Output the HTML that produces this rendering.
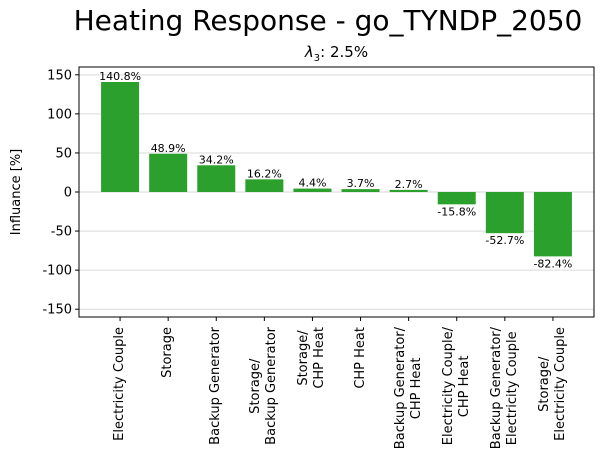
<!DOCTYPE html>
<html><head><meta charset="utf-8"><style>
body{margin:0;width:604px;height:473px;background:#fff;position:relative;overflow:hidden;font-family:"DejaVu Sans","Liberation Sans",sans-serif;}
.xl{position:absolute;top:327px;writing-mode:vertical-rl;text-align:center;font-size:13px;line-height:16px;white-space:pre;transform:translateX(-50%) rotate(180deg);color:#000}
</style></head><body>
<div style="position:absolute;left:0;width:656px;top:4px;text-align:center;font-size:28px;">Heating Response - go_TYNDP_2050</div>
<div style="position:absolute;left:79px;width:515px;top:43px;text-align:center;font-size:15px;"><i>λ</i><sub style="font-size:10px">3</sub>: 2.5%</div>
<svg id="c" width="604" height="473" style="position:absolute;left:0;top:0" font-family="DejaVu Sans, Liberation Sans, sans-serif"></svg>
<div id="xl"></div>
<script>
const categories=["Electricity Couple","Storage","Backup Generator","Storage/\nBackup Generator","Storage/\nCHP Heat","CHP Heat","Backup Generator/\nCHP Heat","Electricity Couple/\nCHP Heat","Backup Generator/\nElectricity Couple","Storage/\nElectricity Couple"];
const values=[140.8,48.9,34.2,16.2,4.4,3.7,2.7,-15.8,-52.7,-82.4];
const yTicks=[-150,-100,-50,0,50,100,150];
const L=79,R=594,T=67,B=317,ymin=-160,ymax=160;
const n=categories.length;
const step=(R-L)/(n-1+0.854*2);
const x=i=>L+step*(0.854+i);
const y=v=>T+(ymax-v)/(ymax-ymin)*(B-T);
const bw=step*0.79;
const s=document.getElementById('c');const NS="http://www.w3.org/2000/svg";
function el(t,a,p){const e=document.createElementNS(NS,t);for(const k in a)e.setAttribute(k,a[k]);(p||s).appendChild(e);return e;}
yTicks.forEach(t=>{
const g=el('line',{x1:L,x2:R,y1:y(t),y2:y(t),stroke:'#d9d9d9','stroke-width':1});


el('line',{x1:L-4,x2:L,y1:y(t),y2:y(t),stroke:'#000'});
const tx=el('text',{x:L-7,y:y(t)+4.5,'text-anchor':'end','font-size':13});tx.textContent=t;


});
const xl=document.getElementById('xl');
values.forEach((v,i)=>{
const r=el('rect',{x:x(i)-bw/2,y:Math.min(y(v),y(0)),width:bw,height:Math.abs(y(v)-y(0)),fill:'#2ca02c'});


const t=el('text',{x:x(i),y:v>=0?y(v)-2:y(v)+11,'text-anchor':'middle','font-size':11});
t.textContent=v.toFixed(1)+'%';


el('line',{x1:x(i),x2:x(i),y1:B,y2:B+4,stroke:'#000'});
const d=document.createElement('div');d.className='xl';d.style.left=x(i)+'px';d.textContent=categories[i];


xl.appendChild(d);
});
const f=el('rect',{x:L,y:T,width:R-L,height:B-T,fill:'none',stroke:'#000','stroke-width':1});


const yl=el('text',{x:0,y:0,transform:`translate(20,${(T+B)/2}) rotate(-90)`,'text-anchor':'middle','font-size':13});
yl.textContent='Influance [%]';


</script>
</body></html>
